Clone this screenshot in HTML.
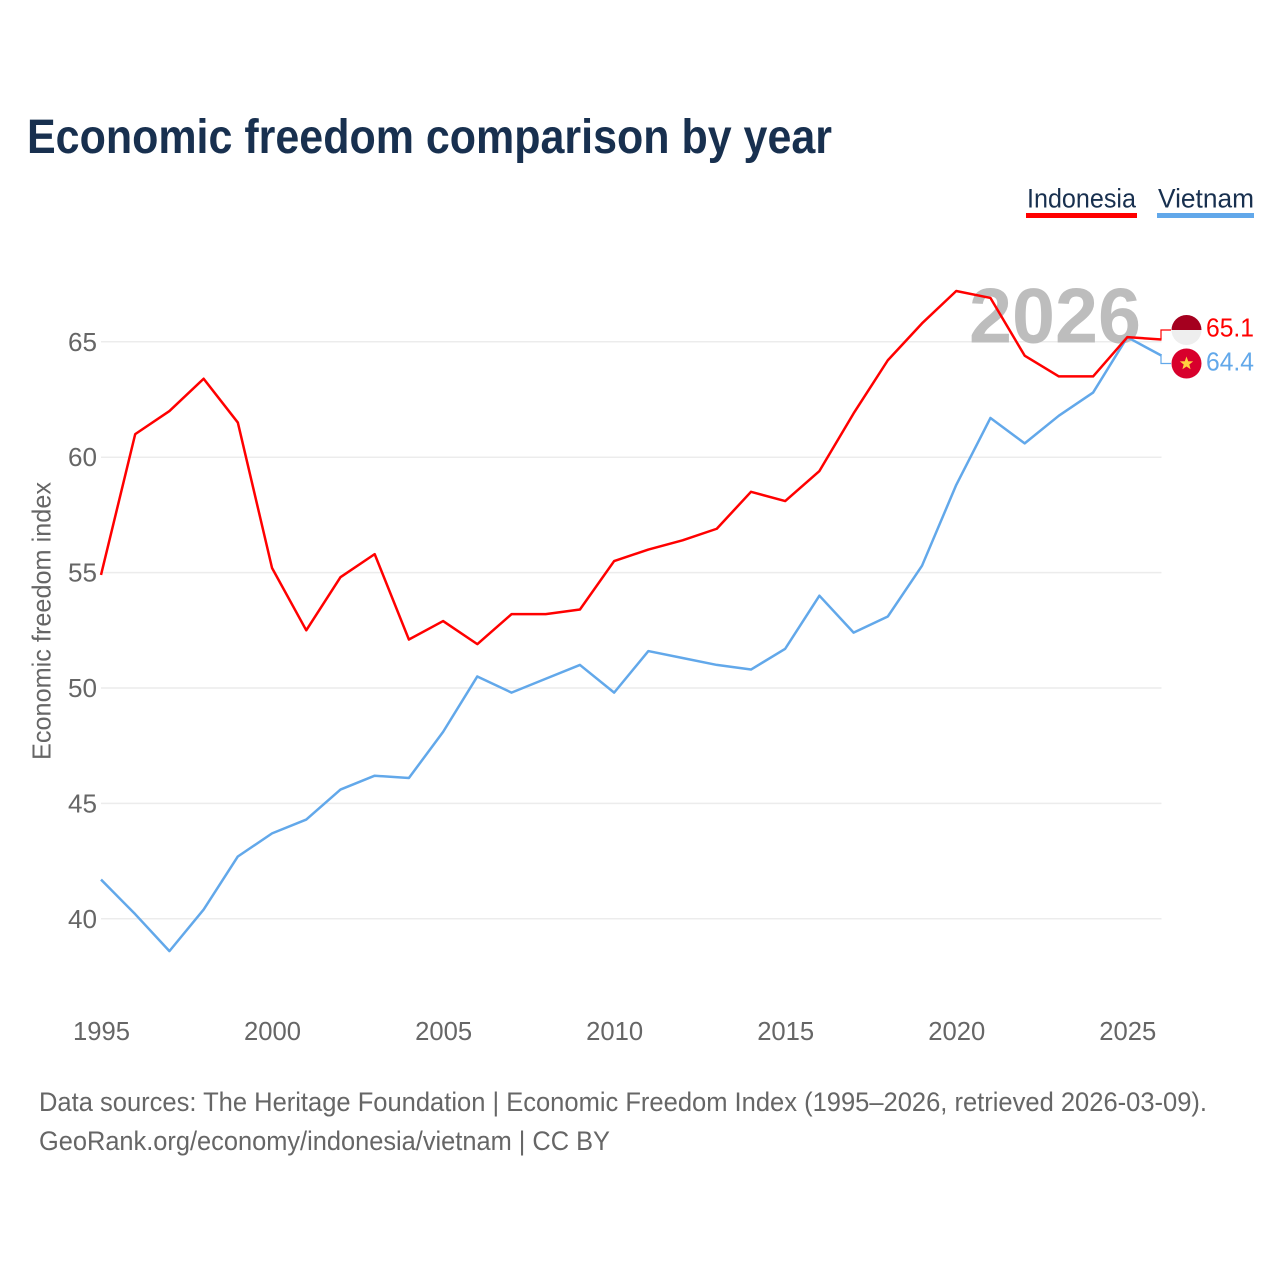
<!DOCTYPE html>
<html lang="en">
<head>
<meta charset="utf-8">
<title>Economic freedom comparison by year</title>
<style>
html,body{margin:0;padding:0;background:#fff;}
svg{display:block;}
text{font-family:"Liberation Sans",sans-serif;}
</style>
</head>
<body>
<svg id="chart" xmlns="http://www.w3.org/2000/svg" width="1280" height="1280" viewBox="0 0 1280 1280">
  <rect width="1280" height="1280" fill="#fff"/>
  <text x="27" y="153" font-size="48" font-weight="bold" fill="#18304f" textLength="805" lengthAdjust="spacingAndGlyphs">Economic freedom comparison by year</text>

  <g>
    <text x="1027" y="207.5" font-size="27" fill="#18304f" textLength="109" lengthAdjust="spacingAndGlyphs">Indonesia</text>
    <rect x="1026" y="213" width="111" height="5" fill="#ff0000"/>
  </g>
  <g>
    <text x="1158" y="207.5" font-size="27" fill="#18304f" textLength="96" lengthAdjust="spacingAndGlyphs">Vietnam</text>
    <rect x="1157" y="213" width="97" height="5" fill="#62a8ea"/>
  </g>

  <g id="grid"></g>
  <text x="969" y="342.5" font-size="78" font-weight="bold" fill="#bdbdbd" textLength="172" lengthAdjust="spacingAndGlyphs">2026</text>
  <g id="yticks"></g>
  <g id="xticks"></g>
  <text transform="translate(50.5 621) rotate(-90)" text-anchor="middle" font-size="26" fill="#666" textLength="278" lengthAdjust="spacingAndGlyphs">Economic freedom index</text>

  <g id="series"></g>

  <g>
    <clipPath id="flag-id-clip"><circle cx="1186.5" cy="330" r="15"/></clipPath>
    <g clip-path="url(#flag-id-clip)">
      <rect x="1171" y="314" width="31" height="16" fill="#a5001f"/>
      <rect x="1171" y="330" width="31" height="16" fill="#eeeeee"/>
    </g>
    <text id="label-id" x="1206" y="336.5" font-size="25.5" fill="#ff0000" textLength="48" lengthAdjust="spacingAndGlyphs"></text>
  </g>
  <g>
    <circle cx="1186.5" cy="363.5" r="15" fill="#d8002c"/>
    <polygon points="1186.5,356.5 1188.2,361.2 1193.2,361.4 1189.3,364.5 1190.6,369.3 1186.5,366.5 1182.4,369.3 1183.7,364.5 1179.8,361.4 1184.8,361.2" fill="#ffd23f"/>
    <text id="label-vn" x="1206" y="370.5" font-size="25.5" fill="#62a8ea" textLength="48" lengthAdjust="spacingAndGlyphs"></text>
  </g>

  <text x="39" y="1111" font-size="26.5" fill="#666" textLength="1168" lengthAdjust="spacingAndGlyphs">Data sources: The Heritage Foundation | Economic Freedom Index (1995–2026, retrieved 2026-03-09).</text>
  <text x="39" y="1150" font-size="26.5" fill="#666" textLength="571" lengthAdjust="spacingAndGlyphs">GeoRank.org/economy/indonesia/vietnam | CC BY</text>
</svg>
<script>
const years = [1995,1996,1997,1998,1999,2000,2001,2002,2003,2004,2005,2006,2007,2008,2009,2010,2011,2012,2013,2014,2015,2016,2017,2018,2019,2020,2021,2022,2023,2024,2025,2026];
const indonesia = [54.9,61.0,62.0,63.4,61.5,55.2,52.5,54.8,55.8,52.1,52.9,51.9,53.2,53.2,53.4,55.5,56.0,56.4,56.9,58.5,58.1,59.4,61.9,64.2,65.8,67.2,66.9,64.4,63.5,63.5,65.2,65.1];
const vietnam = [41.7,40.2,38.6,40.4,42.7,43.7,44.3,45.6,46.2,46.1,48.1,50.5,49.8,50.4,51.0,49.8,51.6,51.3,51.0,50.8,51.7,54.0,52.4,53.1,55.3,58.8,61.7,60.6,61.8,62.8,65.2,64.4];
const yTickValues = [40,45,50,55,60,65];
const xTickValues = [1995,2000,2005,2010,2015,2020,2025];

const NS = 'http://www.w3.org/2000/svg';
const xScale = function (year) { return 101 + (year - 1995) * (1127.3 - 101) / 30; };
const yScale = function (value) { return 918.8 - (value - 40) * (918.8 - 341.8) / 25; };

function make(tag, attrs, parent, content) {
  const el = document.createElementNS(NS, tag);
  Object.keys(attrs).forEach(function (k) { el.setAttribute(k, attrs[k]); });
  if (content !== undefined) el.textContent = content;
  parent.appendChild(el);
  return el;
}

const gridGroup = document.getElementById('grid');
const yGroup = document.getElementById('yticks');
const xGroup = document.getElementById('xticks');
const seriesGroup = document.getElementById('series');
const lastYear = years[years.length - 1];

yTickValues.forEach(function (v) {
  const line = make('line', {x1: xScale(1995), x2: xScale(lastYear), y1: yScale(v), y2: yScale(v), stroke: '#ececec', 'stroke-width': 1.5}, gridGroup);
  
  
  const label = make('text', {x: 97, y: yScale(v) + 9, 'text-anchor': 'end', 'font-size': 26, fill: '#666', textLength: 29, lengthAdjust: 'spacingAndGlyphs'}, yGroup, String(v));
  
  
});

xTickValues.forEach(function (v) {
  const label = make('text', {x: xScale(v) + 0.5, y: 1040, 'text-anchor': 'middle', 'font-size': 26, fill: '#666', textLength: 57, lengthAdjust: 'spacingAndGlyphs'}, xGroup, String(v));
  
  
});

function pathFor(values) {
  return values.map(function (v, i) {
    return (i ? 'L' : 'M') + xScale(years[i]).toFixed(2) + ' ' + yScale(v).toFixed(2);
  }).join(' ');
}

const vietnamLine = make('path', {d: pathFor(vietnam), fill: 'none', stroke: '#62a8ea', 'stroke-width': 2.5, 'stroke-linejoin': 'round'}, seriesGroup);



const indonesiaLine = make('path', {d: pathFor(indonesia), fill: 'none', stroke: '#ff0000', 'stroke-width': 2.5, 'stroke-linejoin': 'round'}, seriesGroup);



const endX = xScale(lastYear);
const idEnd = indonesia[indonesia.length - 1];
const vnEnd = vietnam[vietnam.length - 1];

const idConnector = make('path', {d: 'M' + endX + ' ' + yScale(idEnd) + ' L1161 ' + yScale(idEnd) + ' L1161 330 L1171 330', fill: 'none', stroke: '#ff0000', 'stroke-width': 1.2}, seriesGroup);



const vnConnector = make('path', {d: 'M' + endX + ' ' + yScale(vnEnd) + ' L1161 ' + yScale(vnEnd) + ' L1161 363.5 L1171 363.5', fill: 'none', stroke: '#62a8ea', 'stroke-width': 1.2}, seriesGroup);



document.getElementById('label-id').textContent = idEnd.toFixed(1);
document.getElementById('label-vn').textContent = vnEnd.toFixed(1);
</script>
</body>
</html>
